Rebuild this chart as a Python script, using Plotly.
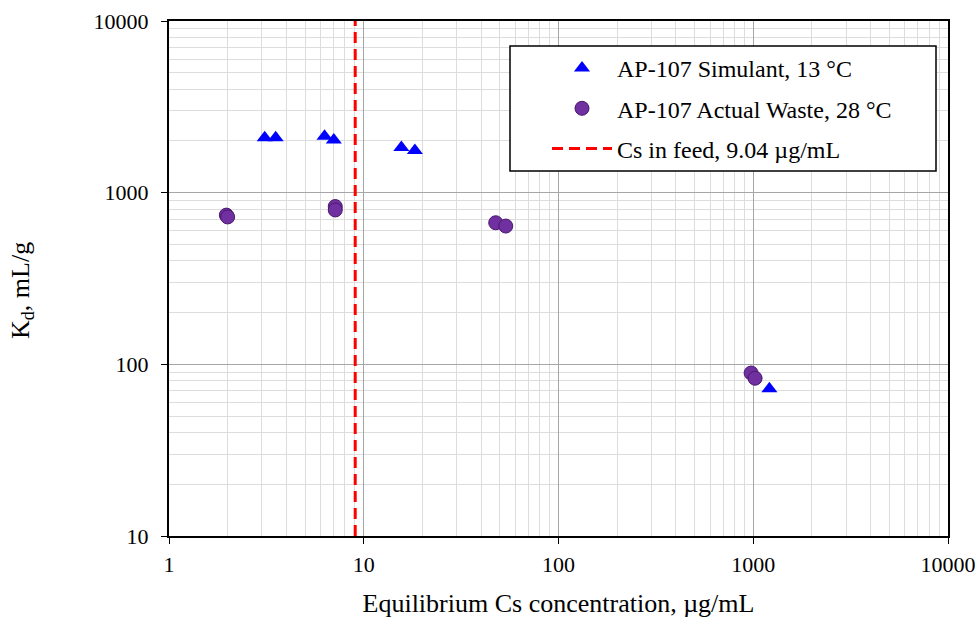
import plotly.graph_objects as go

# Data
sim_x = [3.10, 3.53, 6.29, 7.02, 15.6, 18.3, 1210]
sim_y = [2090, 2090, 2130, 2030, 1830, 1760, 72]
act_x = [1.97, 2.0, 7.14, 7.14, 47.6, 53.6, 975, 1022]
act_y = [740, 722, 830, 793, 668, 639, 89, 83]
feed_cs = 9.04
x_ticks = [1, 10, 100, 1000, 10000]
y_ticks = [10, 100, 1000, 10000]

FONT = "Liberation Serif, Times New Roman, serif"

fig = go.Figure()
fig.add_trace(go.Scatter(
    x=sim_x, y=sim_y, mode="markers", name="AP-107 Simulant, 13 °C",
    legendgroup="a",
    marker=dict(symbol="triangle-up", size=14, color="#0000FF",
                line=dict(width=0)),
))
fig.add_trace(go.Scatter(
    x=act_x, y=act_y, mode="markers", name="AP-107 Actual Waste, 28 °C",
    legendgroup="b",
    marker=dict(symbol="circle", size=14, color="#7030A0",
                line=dict(width=1, color="#4B1870")),
))
fig.add_trace(go.Scatter(
    x=[feed_cs, feed_cs], y=[y_ticks[0], y_ticks[-1]], mode="lines",
    name="Cs in feed, 9.04 µg/mL", legendgroup="c",
    line=dict(color="#FF0000", width=3, dash="11px,6px"),
))

axis_common = dict(
    type="log", showline=True, linecolor="black", linewidth=2, mirror=True,
    ticks="outside", ticklen=6, tickcolor="black", tickwidth=1,
    showgrid=True, gridcolor="#A6A6A6", gridwidth=1,
    zeroline=False, automargin=False,
    tickfont=dict(family=FONT, size=22, color="black"),
    minor=dict(showgrid=True, gridcolor="#DDDDDD", gridwidth=1, dtick="D1",
               ticks=""),
)

fig.update_xaxes(**axis_common, range=[0, 4], ticklabelstandoff=2,
                 tickvals=x_ticks, ticktext=[str(v) for v in x_ticks],
                 title=dict(text="Equilibrium Cs concentration, µg/mL",
                            font=dict(family=FONT, size=26, color="black"),
                            standoff=18))
fig.update_yaxes(**axis_common, range=[1, 4], ticklabelstandoff=8,
                 tickvals=y_ticks, ticktext=[str(v) for v in y_ticks])

fig.update_layout(
    width=980, height=618,
    margin=dict(l=169, r=32, t=21, b=82),
    paper_bgcolor="white", plot_bgcolor="white",
    showlegend=True,
    legend=dict(
        x=(552 - 169 - 5) / 779, y=(536 - 46) / 515,
        xanchor="left", yanchor="top",
        bgcolor="rgba(0,0,0,0)", borderwidth=0,
        font=dict(family=FONT, size=24, color="black"),
        traceorder="grouped", tracegroupgap=6, itemwidth=60,
    ),
    shapes=[dict(type="rect", xref="paper", yref="paper",
                 x0=(510 - 169) / 779, x1=(936 - 169) / 779,
                 y0=(536 - 171) / 515, y1=(536 - 46) / 515,
                 line=dict(color="black", width=1.5),
                 fillcolor="white", layer="above")],
    annotations=[dict(
        text="K<sub>d</sub>, mL/g", textangle=-90, showarrow=False,
        xref="paper", yref="paper",
        x=(22 - 169) / 779, y=(536 - 291) / 515,
        xanchor="center", yanchor="middle",
        font=dict(family=FONT, size=26, color="black"),
    )],
)

fig.write_html("out.html")
